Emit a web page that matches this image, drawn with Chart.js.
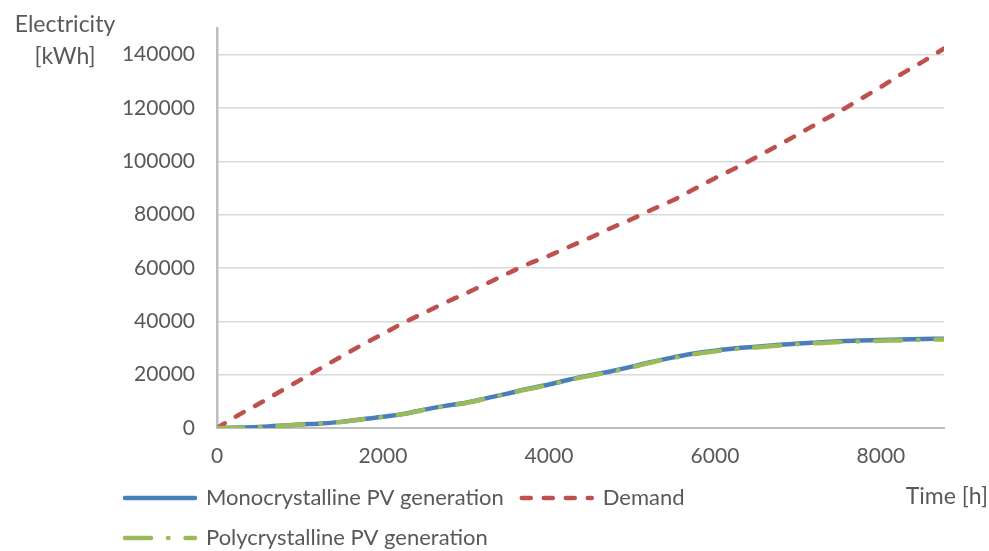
<!DOCTYPE html>
<html>
<head>
<meta charset="utf-8">
<title>Electricity generation and demand</title>
<script src="https://cdn.jsdelivr.net/npm/chart.js@4"></script>
<style>
    body { margin: 0; background: #fff; }
</style>
</head>
<body>
<canvas id="energyChart" width="989" height="551"></canvas>
<script>
// cumulative values over one year, sampled every 250 h
const hours = [0, 250, 500, 750, 1000, 1250, 1500, 1750, 2000, 2250, 2500, 2750,
    3000, 3250, 3500, 3750, 4000, 4250, 4500, 4750, 5000, 5250, 5500, 5750,
    6000, 6250, 6500, 6750, 7000, 7250, 7500, 7750, 8000, 8250, 8500, 8760];

const monoPV = [0, 150, 400, 800, 1300, 1700, 2300, 3300, 4200, 5300, 6900, 8300,
    9500, 11200, 12900, 14700, 16300, 18200, 19800, 21300, 23000, 24900, 26500, 27950,
    29000, 29900, 30500, 31100, 31700, 32100, 32500, 32800, 33000, 33150, 33350, 33500];

const polyPV = [0, 140, 390, 780, 1280, 1680, 2270, 3260, 4150, 5240, 6820, 8220,
    9400, 11080, 12770, 14560, 16140, 18020, 19610, 21100, 22790, 24680, 26260, 27700,
    28740, 29630, 30230, 30820, 31420, 31810, 32210, 32510, 32710, 32860, 33060, 33210];

const demand = [0, 4700, 9000, 13500, 17950, 22400, 26850, 31200, 35300, 39500, 43200, 47000,
    50500, 54200, 57900, 61500, 64600, 68050, 71400, 75000, 78350, 82000, 85500, 89600,
    93700, 97500, 101600, 105800, 110100, 114500, 118700, 123300, 127900, 132800, 137300, 142300];

const xTicks = [0, 2000, 4000, 6000, 8000];
const yTicks = [0, 20000, 40000, 60000, 80000, 100000, 120000, 140000];

const seriesNames = ["Monocrystalline PV generation", "Demand", "Polycrystalline PV generation"];
const yTitle = ["Electricity", "[kWh]"];
const xTitle = "Time [h]";

const textColor = "#595959";
const fontFamily = "Lato, 'Open Sans', sans-serif";

function points(values) {
    return hours.map((h, i) => ({ x: h, y: values[i] }));
}

Chart.defaults.font.family = fontFamily;
Chart.defaults.font.size = 21;
Chart.defaults.color = textColor;

// axis titles sit outside the usual scale title slots
const axisTitles = {
    id: "axisTitles",
    afterDraw(chart) {
        const ctx = chart.ctx;
        ctx.save();
        ctx.fillStyle = textColor;
        ctx.font = "23px " + fontFamily;
        ctx.textAlign = "center";
        ctx.textBaseline = "alphabetic";
        ctx.fillText(yTitle[0], 65, 32);
        ctx.fillText(yTitle[1], 65, 64);
        ctx.textAlign = "right";
        ctx.fillText(xTitle, chart.width - 1, 504);
        ctx.restore();
    }
};

// legend samples should repeat each series' own dash pattern
function legendLabels(chart) {
    return Chart.defaults.plugins.legend.labels.generateLabels(chart).map(item => {
        const ds = chart.data.datasets[item.datasetIndex];
        item.lineDash = ds.borderDash || [];
        item.lineCap = ds.borderCapStyle;
        item.lineWidth = ds.borderWidth;
        item.strokeStyle = ds.borderColor;
        return item;
    });
}

new Chart(document.getElementById("energyChart"), {
    type: "line",
    data: {
        datasets: [{
            label: seriesNames[0],
            data: points(monoPV),
            borderColor: "#4a7ebb",
            borderWidth: 4.5,
            borderCapStyle: "round",
            order: 2
        }, {
            label: seriesNames[1],
            data: points(demand),
            borderColor: "#c0504d",
            borderWidth: 4.5,
            borderDash: [9, 13],
            borderCapStyle: "round",
            order: 1
        }, {
            label: seriesNames[2],
            data: points(polyPV),
            borderColor: "#9bbb59",
            borderWidth: 4.5,
            borderDash: [26, 17, 0.5, 17],
            borderCapStyle: "round",
            order: 0
        }]
    },
    options: {
        responsive: false,
        animation: false,
        devicePixelRatio: 1,
        elements: {
            point: { radius: 0 },
            line: { cubicInterpolationMode: "monotone", fill: false }
        },
        layout: {
            padding: { left: 107, right: 45, top: 28, bottom: -8 }
        },
        scales: {
            x: {
                type: "linear",
                min: 0,
                max: 8760,
                grid: { display: false, drawTicks: false },
                border: { color: "#bfbfbf", width: 2 },
                ticks: {
                    padding: 16,
                    maxRotation: 0,
                    callback: value => String(value)
                },
                afterBuildTicks: scale => {
                    scale.ticks = xTicks.map(v => ({ value: v }));
                },
                afterFit: scale => { scale.height = 41; }
            },
            y: {
                min: 0,
                max: 150000,
                grid: { color: "#d9d9d9", lineWidth: 1.5, drawTicks: false },
                border: { color: "#bfbfbf", width: 2.5 },
                ticks: {
                    padding: 22,
                    callback: value => String(value)
                },
                afterBuildTicks: scale => {
                    scale.ticks = yTicks.map(v => ({ value: v }));
                },
                // top label is well below the axis end, so no extra room is needed above
                afterFit: scale => {
                    scale.width = 110;
                    scale.paddingTop = 0;
                }
            }
        },
        plugins: {
            legend: {
                position: "bottom",
                align: "start",
                labels: {
                    usePointStyle: true,
                    pointStyle: "line",
                    pointStyleWidth: 70,
                    padding: 18,
                    color: textColor,
                    font: { size: 22 },
                    generateLabels: legendLabels,
                    sort: (a, b) => a.datasetIndex - b.datasetIndex
                }
            },
            tooltip: { enabled: false }
        }
    },
    plugins: [axisTitles]
});
</script>
</body>
</html>
